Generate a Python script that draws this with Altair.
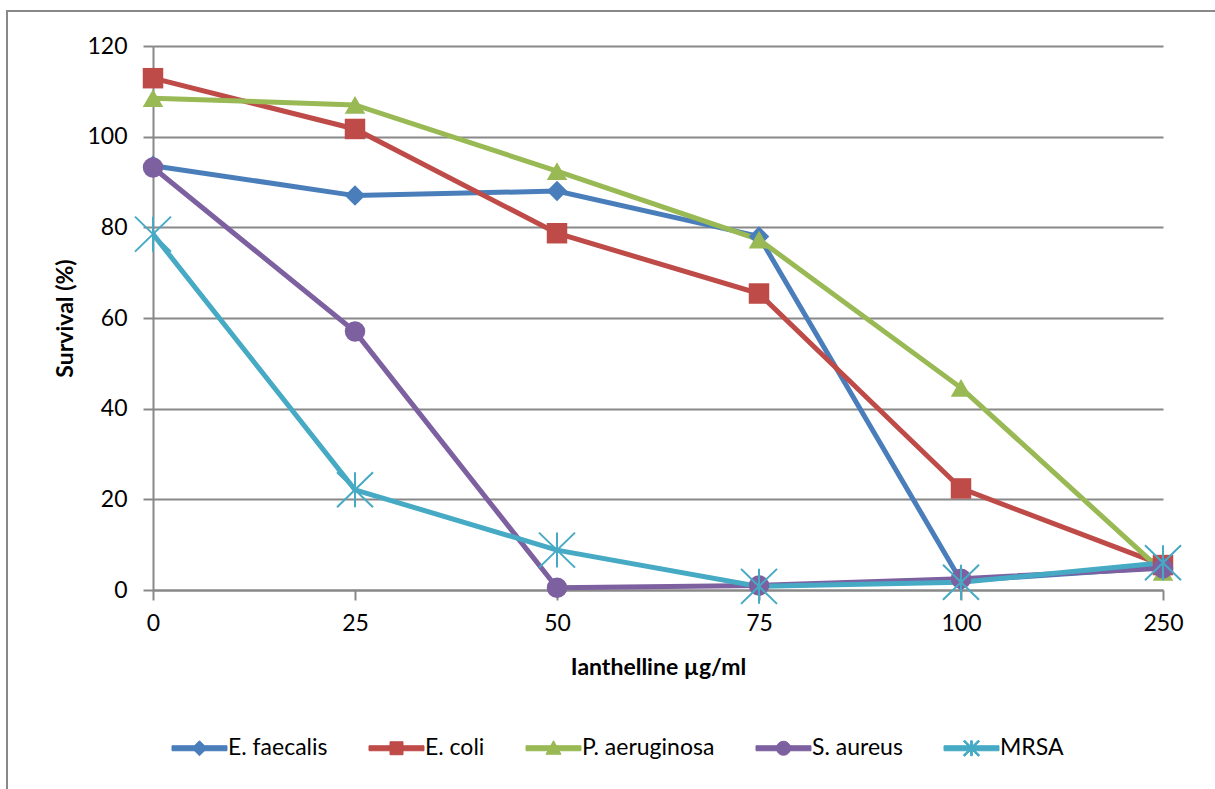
import math
import altair as alt
import pandas as pd

concentrations = ["0", "25", "50", "75", "100", "250"]
series_names = ["E. faecalis", "E. coli", "P. aeruginosa", "S. aureus", "MRSA"]
e_faecalis = [93.6, 87.0, 88.0, 78.0, 2.0, 5.0]
e_coli = [112.9, 101.7, 78.7, 65.4, 22.4, 5.5]
p_aeruginosa = [108.5, 107.0, 92.4, 77.3, 44.6, 4.0]
s_aureus = [93.2, 57.0, 0.5, 1.0, 2.5, 4.8]
mrsa = [78.5, 22.1, 8.8, 0.8, 1.7, 6.0]
y_ticks = [0, 20, 40, 60, 80, 100, 120]

colors = ["#4A7EBB", "#BE4B48", "#98B954", "#7D60A0", "#46AAC5"]

all_values = [e_faecalis, e_coli, p_aeruginosa, s_aureus, mrsa]
rows = []
for name, vals in zip(series_names, all_values):
    for c, v in zip(concentrations, vals):
        rows.append({"conc": c, "value": v, "series": name, "series_p": name})
df = pd.DataFrame(rows)


# ---------- symbol geometry (style only) ----------
def fmt(v):
    return f"{v:.4f}"


def poly(pts, r):
    return "M" + "L".join(f"{fmt(x / r)},{fmt(y / r)}" for x, y in pts) + "Z"


def arm(p1, p2, t, r):
    (x1, y1), (x2, y2) = p1, p2
    L = math.hypot(x2 - x1, y2 - y1)
    dx, dy = (x2 - x1) / L, (y2 - y1) / L
    nx, ny = -dy * t, dx * t
    return poly([(x1 - nx, y1 - ny), (x2 - nx, y2 - ny),
                 (x2 + nx, y2 + ny), (x1 + nx, y1 + ny)], r)


def circle(c, r):
    a = fmt(c / r)
    return f"M-{a},0A{a},{a} 0 1,1 {a},0A{a},{a} 0 1,1 -{a},0Z"


def asterisk(h, w, t, r):
    return (arm((0, -h), (0, h), t, r) + arm((-w, -h), (w, h), t, r)
            + arm((-w, h), (w, -h), t, r))


# chart marker asterisk (size 420 -> r = sqrt(420)/2)
CHART_SIZE = 420
RC = math.sqrt(CHART_SIZE) / 2
shapes = ["diamond", "square", "triangle-up", "circle",
          asterisk(17.5, 18.0, 1.0, RC)]

# legend symbols: line segment + small marker, all filled
LEG_SIZE = 56 * 56
RL = math.sqrt(LEG_SIZE) / 2
seg = arm((-27.5, 0), (27.5, 0), 2.5, RL)
legend_paths = [
    seg + poly([(0, -7.5), (7.5, 0), (0, 7.5), (-7.5, 0)], RL),
    seg + poly([(-6.5, -6.5), (6.5, -6.5), (6.5, 6.5), (-6.5, 6.5)], RL),
    seg + poly([(0, -7.5), (7.5, 6), (-7.5, 6)], RL),
    seg + circle(7, RL),
    seg + asterisk(7.5, 7.5, 0.9, RL),
]
names_js = "[" + ",".join(f"'{n}'" for n in series_names) + "]"
paths_js = "[" + ",".join(f"'{p}'" for p in legend_paths) + "]"
colors_js = "[" + ",".join(f"'{c}'" for c in colors) + "]"
idx = f"indexof({names_js}, datum.value)"

FONT = "Lato"
GRAY = "#888888"
FS = 23

x_enc = alt.X(
    "conc:N", sort=concentrations,
    scale=alt.Scale(type="point", padding=0),
    axis=alt.Axis(title="Ianthelline µg/ml", labelAngle=0, grid=False,
                  domainColor=GRAY, domainWidth=2, tickColor=GRAY, tickWidth=2,
                  tickSize=10, labelPadding=12, labelFont=FONT, labelFontSize=FS,
                  labelColor="#000000", titleFont=FONT, titleFontSize=FS,
                  titleFontWeight="bold", titleColor="#000000", titlePadding=21),
)
y_enc = alt.Y(
    "value:Q",
    scale=alt.Scale(domain=[0, 120], nice=False, zero=True),
    axis=alt.Axis(title="Survival (%)", values=y_ticks, grid=True, gridColor=GRAY,
                  gridWidth=2, domainColor=GRAY, domainWidth=2, tickColor=GRAY,
                  tickWidth=2, tickSize=10, labelPadding=16, labelFont=FONT,
                  labelFontSize=FS, labelColor="#000000", titleFont=FONT,
                  titleFontSize=FS, titleFontWeight="bold", titleColor="#000000",
                  titlePadding=9),
)

base = alt.Chart(df)

lines = base.mark_line(strokeWidth=5).encode(
    x=x_enc, y=y_enc,
    stroke=alt.Stroke(
        "series:N", sort=series_names,
        scale=alt.Scale(domain=series_names, range=colors),
        legend=alt.Legend(
            title=None, orient="none", legendX=18, legendY=673.5,
            direction="horizontal",
            symbolType={"expr": f"{paths_js}[{idx}]"},
            symbolFillColor={"expr": f"{colors_js}[{idx}]"},
            symbolSize=LEG_SIZE, symbolStrokeWidth=1, symbolOpacity=1,
            labelFont=FONT, labelFontSize=FS, labelColor="#000000",
            labelOffset=0, columnPadding=39,
        ),
    ),
)

# one point layer per series, each with its own fixed marker shape
point_layers = []
for name, shp in zip(series_names, shapes):
    point_layers.append(
        base.transform_filter(alt.datum.series_p == name)
        .mark_point(filled=True, size=CHART_SIZE, opacity=1, shape=shp)
        .encode(
            x=x_enc, y=y_enc,
            color=alt.Color("series_p:N", sort=series_names,
                            scale=alt.Scale(domain=series_names, range=colors),
                            legend=None),
        )
    )

frame = alt.Chart(pd.DataFrame({"k": [0]})).mark_rect(
    fill="transparent", stroke=GRAY, strokeWidth=2
).encode(
    x=alt.value(-146), x2=alt.value(1100), y=alt.value(-35), y2=alt.value(780)
)

chart = alt.layer(frame, lines, *point_layers).properties(
    width=1010, height=544,
    padding={"left": 153, "top": 46, "right": 52, "bottom": 199},
    autosize=alt.AutoSizeParams(type="none"),
    background="white",
).configure_view(stroke=None)

chart.save("out.html", embed_options={"renderer": "svg", "actions": False})
